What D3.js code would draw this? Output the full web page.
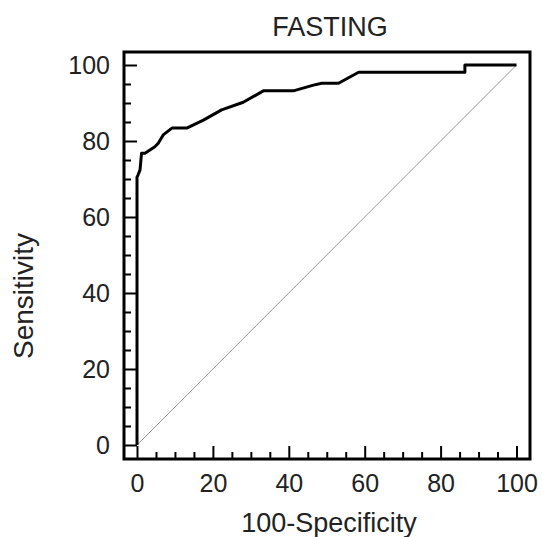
<!DOCTYPE html>
<html>
<head>
<meta charset="utf-8">
<script src="https://cdn.jsdelivr.net/npm/d3@7"></script>
<style>
  html, body { margin: 0; padding: 0; background: #fff; }
  svg { display: block; font-family: "Liberation Sans", Arial, sans-serif; }
</style>
</head>
<body>
<svg id="chart" width="542" height="537"></svg>
<script>
// ---- Data ----
const title = "FASTING";
const xLabel = "100-Specificity";
const yLabel = "Sensitivity";
const majorTicks = [0, 20, 40, 60, 80, 100];
const minorTicks = d3.range(0, 101, 5).filter(v => v % 20 !== 0);
// ROC curve points: [100-Specificity, Sensitivity]
const rocX = [0, 0, 0.3, 0.8, 1.2, 2.1, 4.7, 5.6, 6.9, 9.2, 13.1, 17.5, 22.3, 28.0, 33.3, 41.2, 46.5, 48.7, 53.1, 58.4, 86.4, 86.4, 100];
const rocY = [0, 70.5, 71.1, 72.4, 76.8, 76.8, 78.5, 79.4, 81.6, 83.4, 83.4, 85.5, 88.2, 90.2, 93.2, 93.2, 94.7, 95.2, 95.2, 98.1, 98.1, 100, 100];
const refX = [0, 100];
const refY = [0, 100];

// ---- Layout ----
const svg = d3.select("#chart");
const frame = { left: 124, right: 530, top: 52, bottom: 459 };
const x = d3.scaleLinear().domain([0, 100]).range([137, 516.5]);
const y = d3.scaleLinear().domain([0, 100]).range([445, 65]);

const textColor = "#222";

// diagonal reference line
const line = d3.line().x(d => x(d[0])).y(d => y(d[1]));
svg.append("path")
  .datum(refX.map((v, i) => [v, refY[i]]))
  .attr("d", line)
  .attr("fill", "none")
  .attr("stroke", "#9a9a9a")
  .attr("stroke-width", 1);

// ROC curve
svg.append("path")
  .datum(rocX.map((v, i) => [v, rocY[i]]))
  .attr("d", line)
  .attr("fill", "none")
  .attr("stroke", "#000")
  .attr("stroke-width", 3)
  .attr("stroke-linejoin", "round");

// Axes (inward ticks)
const yAxisMajor = d3.axisLeft(y).tickValues(majorTicks).tickSize(-13).tickPadding(14);
const yAxisMinor = d3.axisLeft(y).tickValues(minorTicks).tickSize(-7).tickFormat("");
const xAxisMajor = d3.axisBottom(x).tickValues(majorTicks).tickSize(-13).tickPadding(15);
const xAxisMinor = d3.axisBottom(x).tickValues(minorTicks).tickSize(-7).tickFormat("");

function styleAxis(g) {
  g.select(".domain").remove();
  g.selectAll(".tick line").attr("stroke", "#000").attr("stroke-width", 2);
  g.selectAll(".tick text").attr("fill", textColor).style("font-size", "25px")
    .style("font-family", "'Liberation Sans', Arial, sans-serif");
}

svg.append("g").attr("transform", `translate(${frame.left},0)`).call(yAxisMinor).call(styleAxis);
svg.append("g").attr("transform", `translate(${frame.left},0)`).call(yAxisMajor).call(styleAxis);
svg.append("g").attr("transform", `translate(0,${frame.bottom})`).call(xAxisMinor).call(styleAxis);
svg.append("g").attr("transform", `translate(0,${frame.bottom})`).call(xAxisMajor).call(styleAxis);

// Frame
svg.append("rect")
  .attr("x", frame.left).attr("y", frame.top)
  .attr("width", frame.right - frame.left)
  .attr("height", frame.bottom - frame.top)
  .attr("fill", "none")
  .attr("stroke", "#000")
  .attr("stroke-width", 3);

// Title
svg.append("text")
  .attr("x", 330).attr("y", 36)
  .attr("text-anchor", "middle")
  .attr("fill", textColor)
  .style("font-size", "27px")
  .text(title);

// X label
svg.append("text")
  .attr("x", 329).attr("y", 532)
  .attr("text-anchor", "middle")
  .attr("fill", textColor)
  .style("font-size", "27px")
  .text(xLabel);

// Y label
svg.append("text")
  .attr("transform", "translate(33,296) rotate(-90)")
  .attr("text-anchor", "middle")
  .attr("fill", textColor)
  .style("font-size", "28px")
  .text(yLabel);
</script>
</body>
</html>
